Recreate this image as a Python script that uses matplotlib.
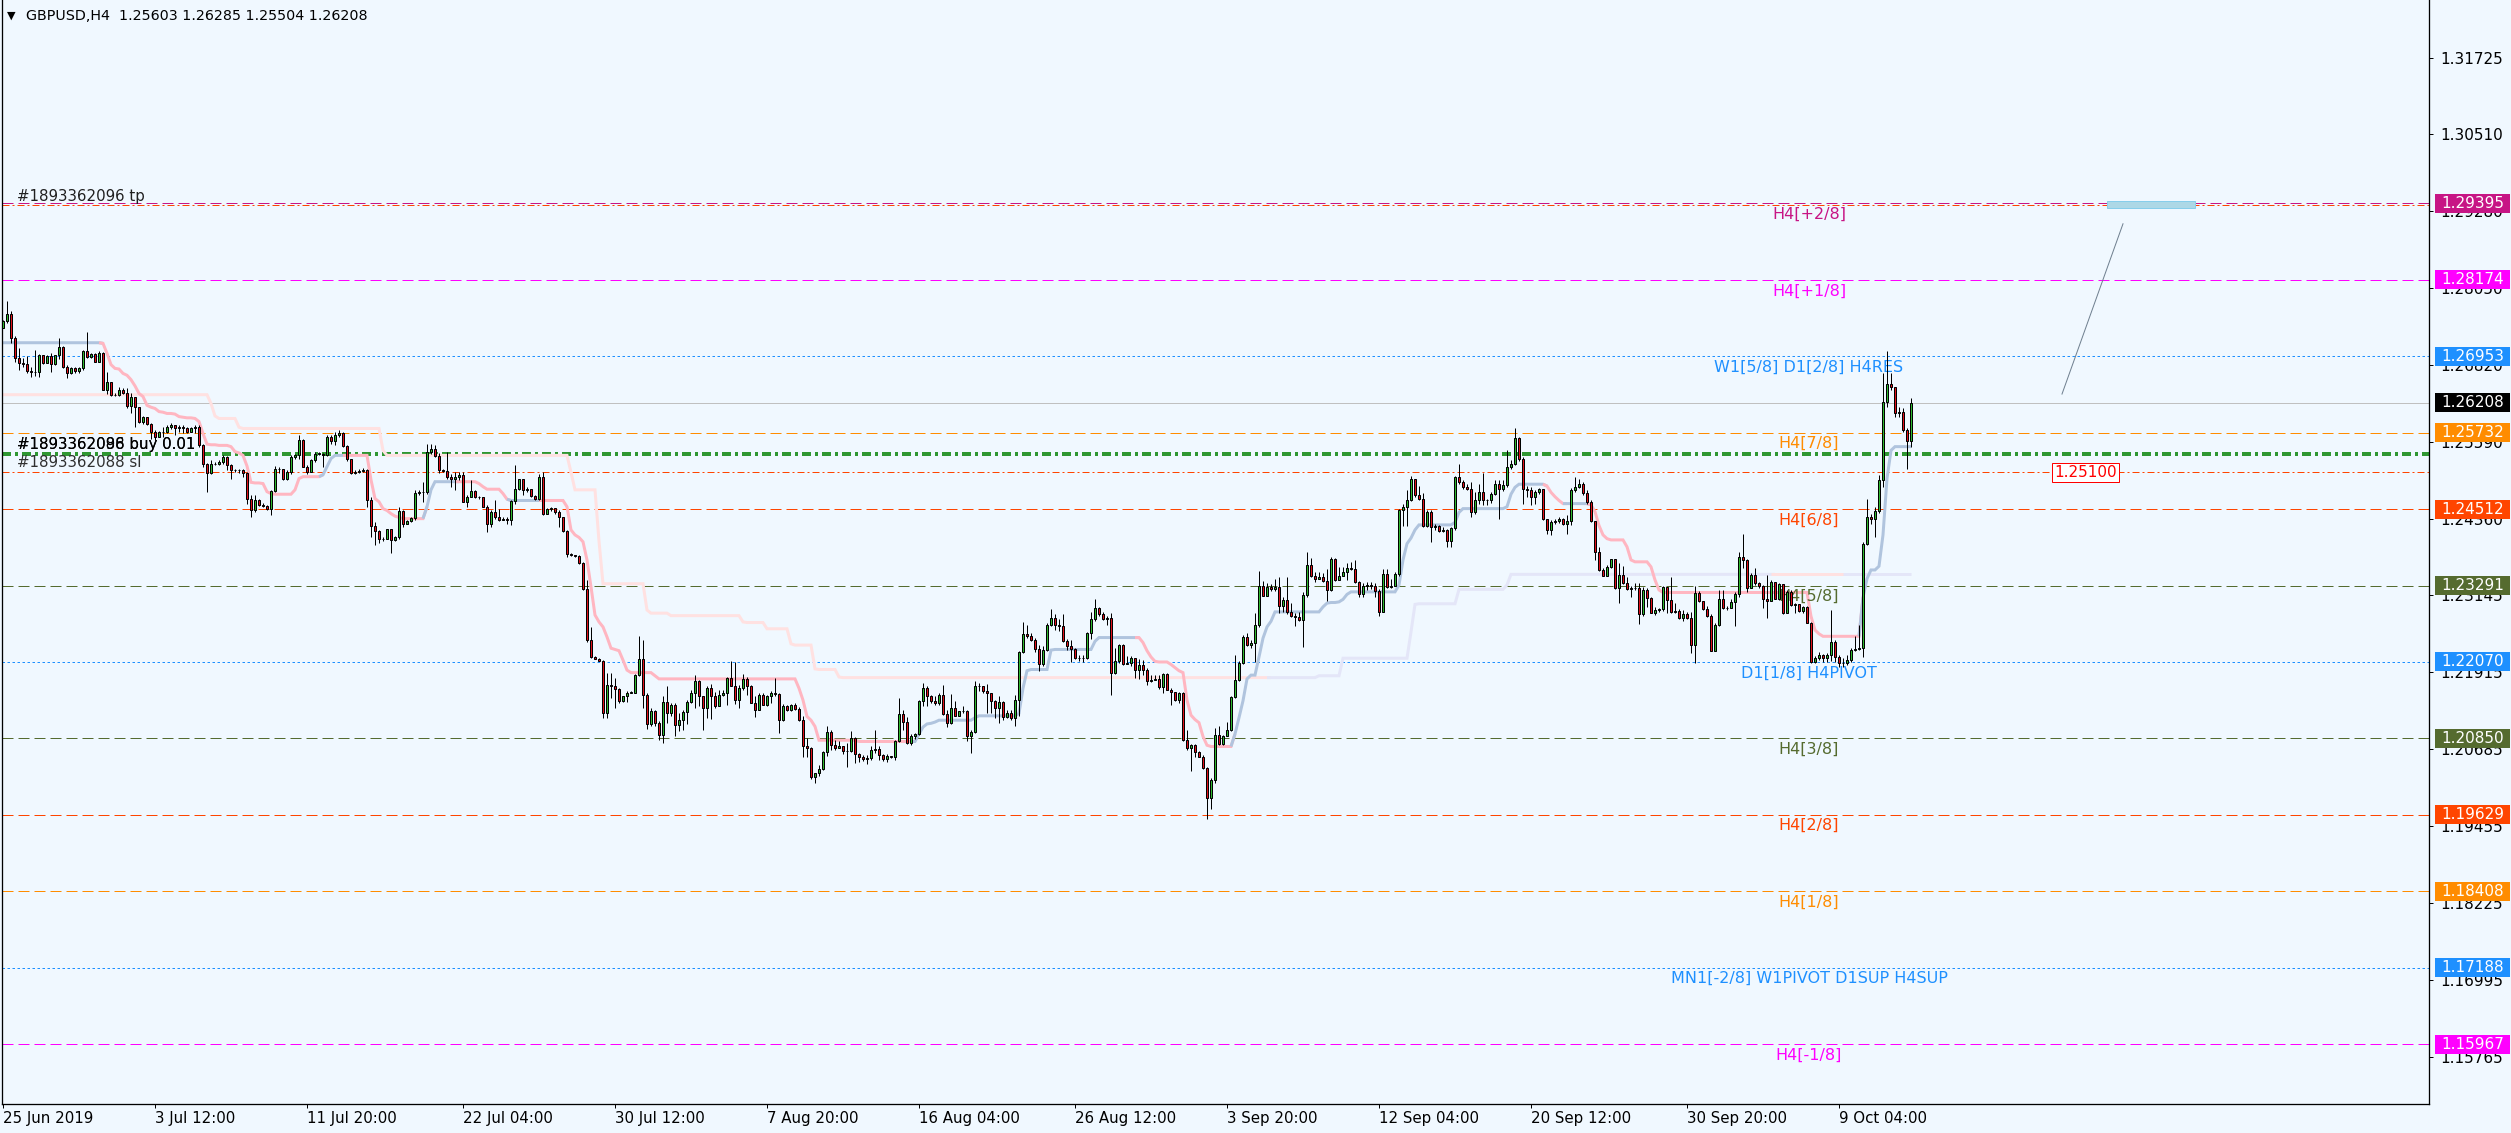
import numpy as np
import matplotlib
matplotlib.use("Agg")
from matplotlib import pyplot as plt
from matplotlib import transforms
from matplotlib.patches import Rectangle

plt.rcParams['font.family'] = ['DejaVu Sans']
plt.rcParams['lines.scale_dashes'] = False

W, H = 2511, 1133
BG = '#F0F8FF'

# prices in points above 1.2000 (1 point = 0.0001), one value per H4 bar
base = 1.2
first_open = 741
close_pts = [
    752, 763, 724, 693, 684, 683, 672, 671, 670, 697,
    685, 696, 683, 697, 710, 679, 668, 676, 672, 677,
    704, 694, 699, 687, 701, 642, 654, 633, 634, 642,
    637, 616, 630, 614, 590, 599, 587, 575, 567, 574,
    575, 582, 585, 580, 583, 580, 575, 581, 583, 553,
    523, 509, 523, 523, 526, 534, 522, 513, 514, 513,
    509, 468, 449, 466, 458, 456, 452, 480, 515, 516,
    500, 510, 535, 537, 562, 519, 510, 529, 540, 540,
    538, 567, 560, 570, 572, 552, 531, 509, 510, 512,
    513, 465, 425, 416, 403, 404, 419, 402, 407, 448,
    428, 433, 437, 477, 479, 478, 542, 547, 536, 513,
    512, 502, 499, 503, 505, 463, 471, 480, 471, 470,
    455, 427, 447, 438, 434, 436, 434, 464, 483, 499,
    482, 484, 472, 468, 502, 443, 452, 453, 446, 438,
    417, 380, 378, 376, 365, 323, 242, 215, 212, 209,
    125, 170, 168, 164, 144, 152, 158, 158, 186, 211,
    154, 108, 128, 110, 91, 143, 125, 139, 106, 115,
    127, 143, 157, 176, 152, 133, 165, 153, 137, 155,
    158, 181, 169, 147, 165, 180, 168, 142, 131, 154,
    139, 152, 157, 156, 115, 137, 130, 138, 132, 114,
    72, 69, 24, 29, 36, 63, 95, 75, 70, 72,
    65, 65, 85, 60, 56, 52, 54, 66, 68, 58,
    52, 57, 56, 81, 124, 111, 77, 88, 92, 144,
    165, 153, 144, 141, 155, 124, 109, 134, 121, 128,
    128, 88, 95, 169, 168, 160, 158, 144, 134, 143,
    119, 126, 117, 146, 223, 252, 249, 242, 227, 204,
    226, 266, 278, 266, 264, 240, 233, 228, 213, 213,
    214, 253, 275, 294, 284, 276, 277, 189, 208, 234,
    204, 205, 213, 194, 202, 194, 177, 179, 180, 167,
    187, 163, 159, 146, 157, 82, 69, 74, 63, 56,
    37, -11, 19, 90, 76, 89, 99, 151, 179, 206,
    247, 234, 238, 266, 329, 313, 327, 324, 327, 297,
    306, 287, 281, 279, 274, 314, 362, 345, 340, 342,
    337, 322, 372, 338, 345, 350, 357, 356, 334, 316,
    328, 330, 329, 321, 287, 348, 326, 329, 348, 449,
    454, 466, 499, 473, 467, 424, 447, 423, 424, 417,
    418, 401, 421, 502, 495, 486, 483, 447, 465, 478,
    466, 466, 476, 492, 483, 489, 518, 524, 565, 531,
    483, 481, 471, 478, 483, 435, 418, 431, 432, 435,
    427, 433, 482, 486, 491, 477, 463, 432, 383, 354,
    345, 358, 371, 325, 346, 333, 324, 325, 325, 283,
    322, 309, 286, 290, 291, 326, 306, 287, 289, 278,
    283, 277, 234, 317, 305, 292, 281, 225, 266, 307,
    293, 294, 303, 316, 375, 370, 325, 346, 333, 329,
    307, 305, 335, 308, 331, 286, 319, 298, 300, 289,
    295, 270, 207, 213, 218, 213, 218, 239, 215, 205,
    205, 210, 226, 227, 229, 395, 439, 435, 448, 498,
    623, 651, 647, 605, 607, 578, 560.3, 620.8,
]
high_pts = [
    753, 783, 768, 727, 708, 692, 695, 679, 705, 699,
    698, 697, 700, 698, 725, 711, 681, 678, 678, 679,
    706, 734, 701, 700, 704, 702, 671, 654, 636, 646,
    644, 644, 636, 631, 615, 600, 599, 589, 578, 576,
    583, 586, 588, 586, 585, 585, 583, 583, 586, 586,
    556, 525, 530, 526, 530, 538, 536, 524, 516, 515,
    515, 510, 474, 474, 467, 461, 458, 482, 520, 519,
    514, 513, 538, 539, 570, 563, 521, 531, 542, 542,
    541, 569, 570, 575, 578, 575, 553, 532, 513, 515,
    517, 515, 470, 431, 418, 406, 420, 419, 408, 455,
    450, 434, 439, 482, 481, 495, 556, 555, 554, 541,
    515, 543, 508, 511, 510, 510, 474, 498, 481, 472,
    470, 458, 449, 466, 452, 438, 439, 466, 522, 500,
    500, 486, 484, 474, 507, 511, 453, 455, 453, 450,
    438, 418, 381, 378, 378, 366, 338, 263, 216, 214,
    210, 189, 189, 181, 165, 153, 160, 160, 187, 248,
    242, 157, 134, 130, 112, 153, 169, 141, 141, 125,
    130, 146, 163, 186, 179, 153, 168, 172, 159, 163,
    163, 183, 208, 207, 170, 188, 183, 170, 152, 157,
    157, 154, 160, 181, 157, 140, 138, 140, 141, 135,
    120, 85, 71, 30, 42, 65, 104, 99, 82, 81,
    73, 77, 96, 87, 62, 58, 58, 72, 98, 72,
    60, 60, 57, 82, 150, 130, 119, 92, 94, 146,
    173, 168, 155, 152, 158, 170, 130, 156, 144, 129,
    136, 130, 98, 176, 174, 169, 172, 154, 146, 153,
    144, 131, 130, 154, 225, 271, 266, 253, 245, 234,
    232, 269, 291, 284, 276, 284, 243, 242, 229, 218,
    218, 255, 287, 307, 295, 287, 280, 285, 230, 236,
    235, 216, 216, 210, 211, 210, 197, 186, 186, 186,
    189, 189, 165, 158, 159, 159, 98, 76, 76, 65,
    58, 40, 21, 101, 104, 91, 111, 153, 218, 209,
    250, 254, 242, 285, 352, 337, 333, 332, 340, 342,
    311, 342, 301, 285, 287, 319, 383, 373, 351, 350,
    349, 355, 374, 373, 359, 359, 365, 367, 370, 336,
    333, 334, 335, 333, 324, 355, 355, 339, 350, 452,
    460, 481, 504, 492, 488, 477, 450, 450, 427, 426,
    422, 420, 423, 504, 524, 498, 492, 494, 479, 492,
    509, 468, 479, 497, 498, 497, 546, 530, 580, 567,
    535, 488, 486, 482, 485, 484, 436, 434, 436, 439,
    437, 441, 485, 502, 499, 494, 481, 465, 433, 391,
    357, 362, 372, 372, 365, 361, 343, 328, 333, 333,
    326, 325, 311, 295, 294, 328, 327, 343, 302, 292,
    290, 287, 287, 328, 321, 304, 297, 283, 269, 322,
    322, 297, 307, 319, 383, 412, 372, 349, 357, 335,
    330, 346, 338, 334, 333, 327, 322, 322, 301, 293,
    297, 297, 271, 216, 223, 219, 221, 290, 242, 218,
    213, 218, 229, 248, 266, 399, 468, 444, 455, 506,
    668, 704, 668, 639, 614, 612, 580, 628.5,
]
low_pts = [
    740, 748, 717, 686, 673, 679, 668, 662, 664, 662,
    683, 684, 671, 682, 691, 676, 660, 667, 668, 668,
    674, 692, 692, 686, 687, 641, 635, 632, 632, 632,
    635, 612, 604, 583, 589, 587, 586, 564, 562, 567,
    567, 572, 579, 569, 575, 573, 573, 574, 573, 551,
    519, 479, 508, 521, 522, 523, 514, 499, 510, 509,
    503, 460, 438, 447, 456, 454, 450, 442, 478, 509,
    498, 498, 508, 532, 532, 518, 508, 519, 527, 537,
    519, 536, 556, 553, 566, 550, 528, 508, 508, 509,
    510, 455, 406, 394, 397, 401, 404, 381, 401, 404,
    423, 428, 431, 434, 474, 463, 475, 540, 535, 509,
    510, 500, 487, 482, 498, 462, 454, 470, 469, 468,
    454, 415, 423, 436, 433, 434, 428, 426, 460, 482,
    474, 479, 471, 466, 466, 442, 443, 448, 444, 422,
    415, 375, 376, 374, 364, 322, 239, 213, 211, 208,
    117, 117, 149, 133, 142, 143, 143, 157, 157, 184,
    133, 100, 104, 104, 83, 77, 109, 120, 88, 97,
    98, 108, 141, 133, 136, 99, 118, 116, 133, 137,
    153, 139, 168, 140, 134, 162, 155, 141, 119, 130,
    138, 136, 142, 153, 93, 113, 128, 128, 131, 113,
    55, 55, 20, 13, 25, 34, 57, 66, 67, 70,
    60, 40, 63, 46, 48, 49, 44, 51, 61, 50,
    49, 48, 54, 50, 79, 98, 76, 75, 84, 91,
    136, 136, 141, 138, 139, 122, 103, 108, 120, 120,
    126, 81, 62, 93, 161, 158, 125, 125, 117, 110,
    114, 117, 115, 105, 121, 221, 245, 240, 223, 193,
    201, 225, 264, 258, 257, 239, 226, 207, 211, 209,
    207, 211, 243, 273, 280, 274, 266, 154, 188, 206,
    202, 203, 201, 181, 180, 186, 170, 175, 178, 164,
    157, 162, 138, 144, 142, 81, 67, 33, 56, 55,
    36, -44, -28, 14, 75, 74, 88, 97, 149, 177,
    204, 233, 230, 207, 263, 312, 312, 320, 320, 285,
    287, 284, 279, 264, 273, 231, 311, 343, 335, 339,
    335, 305, 321, 337, 340, 344, 338, 354, 333, 311,
    311, 322, 324, 311, 280, 287, 325, 325, 329, 344,
    424, 425, 464, 471, 466, 423, 423, 398, 418, 415,
    415, 391, 391, 418, 492, 484, 482, 439, 444, 460,
    458, 458, 461, 474, 436, 480, 487, 516, 522, 528,
    460, 471, 458, 460, 475, 434, 411, 410, 427, 429,
    426, 411, 426, 479, 485, 474, 460, 431, 370, 353,
    344, 344, 357, 323, 301, 332, 322, 311, 322, 268,
    280, 295, 285, 282, 287, 289, 285, 286, 286, 276,
    273, 275, 222, 205, 303, 290, 279, 224, 224, 264,
    292, 290, 293, 264, 311, 357, 319, 325, 330, 325,
    293, 277, 305, 307, 306, 284, 285, 296, 286, 287,
    285, 269, 206, 205, 210, 207, 207, 209, 207, 199,
    199, 202, 207, 225, 226, 215, 394, 428, 407, 445,
    487, 614, 641, 598, 599, 575, 515, 550.4,
]

# trailing stop line (value, number of bars), and bars where its colour flips
trail_runs = [
    (717, 25), (716, 1), (700, 1), (682, 1), (676, 1), (675, 1), (668, 1), (665, 1),
    (658, 1), (648, 1), (636, 1), (631, 1), (617, 1), (614, 1), (612, 1), (607, 1),
    (606, 1), (604, 2), (603, 1), (599, 1), (598, 1), (597, 2), (596, 1), (591, 1),
    (572, 1), (555, 1), (554, 2), (553, 3), (551, 1), (543, 1), (541, 1), (537, 1),
    (520, 1), (494, 1), (493, 2), (492, 1), (479, 1), (476, 1), (475, 5), (482, 1),
    (500, 1), (503, 5), (506, 1), (519, 1), (532, 1), (537, 9), (498, 1), (468, 1),
    (463, 1), (452, 1), (449, 1), (444, 1), (440, 1), (438, 1), (436, 6), (455, 1),
    (482, 1), (495, 11), (492, 1), (487, 1), (483, 4), (476, 1), (467, 1), (465, 14),
    (455, 1), (418, 1), (410, 1), (406, 1), (399, 1), (370, 1), (327, 1), (282, 1),
    (271, 1), (263, 1), (247, 1), (229, 1), (227, 1), (225, 1), (210, 1), (194, 1),
    (190, 6), (185, 1), (180, 35), (165, 1), (146, 1), (120, 1), (114, 1), (104, 1),
    (82, 10), (80, 15), (92, 1), (103, 1), (108, 1), (109, 1), (111, 1), (114, 9),
    (118, 1), (121, 10), (125, 1), (165, 1), (193, 1), (195, 5), (226, 1), (227, 10),
    (240, 1), (246, 11), (238, 1), (225, 1), (215, 1), (208, 1), (207, 3), (203, 1),
    (198, 1), (193, 1), (190, 1), (146, 1), (122, 1), (115, 1), (110, 1), (88, 1),
    (74, 1), (72, 6), (92, 1), (118, 1), (145, 1), (180, 1), (186, 2), (215, 1),
    (245, 1), (263, 1), (272, 1), (287, 12), (295, 1), (301, 1), (302, 2), (303, 1),
    (307, 1), (315, 1), (319, 12), (330, 1), (370, 1), (396, 1), (405, 1), (418, 1),
    (426, 9), (430, 1), (446, 1), (452, 11), (455, 1), (475, 1), (486, 1), (491, 7),
    (488, 1), (478, 1), (471, 1), (465, 1), (460, 7), (458, 1), (447, 1), (425, 1),
    (410, 1), (404, 1), (402, 4), (391, 1), (370, 1), (367, 4), (359, 1), (338, 1),
    (322, 1), (318, 37), (280, 1), (258, 1), (252, 1), (248, 10), (310, 1), (340, 1),
    (354, 2), (360, 1), (410, 1), (500, 1), (545, 1), (551, 5),
]
trail_flips = [0, 25, 80, 86, 106, 114, 127, 135, 228, 284, 308, 386, 391, 397, 465]
trail_colors = ['#B0C4DE', '#FFB6C1']          # up, down

# higher time frame trail
htf_runs = [
    (634, 52), (620, 1), (600, 1), (596, 5), (582, 1), (580, 35), (545, 1), (537, 46),
    (510, 1), (482, 6), (400, 1), (332, 11), (290, 1), (285, 5), (281, 18), (271, 1),
    (270, 5), (260, 6), (236, 1), (234, 5), (196, 1), (195, 5), (183, 1), (182, 119),
    (185, 6), (213, 17), (255, 1), (299, 1), (300, 10), (323, 12), (330, 1), (347, 101),
]
htf_flips = [0, 317, 443, 461]
htf_colors = ['#FFE1E1', '#E4E6F8']             # down, up

# murrey math levels
levels = [1.29395, 1.28174, 1.26953, 1.25732, 1.24512, 1.23291,
          1.22070, 1.20850, 1.19629, 1.18408, 1.17188, 1.15967]
level_names = ['H4[+2/8]', 'H4[+1/8]', 'W1[5/8] D1[2/8] H4RES', 'H4[7/8]',
               'H4[6/8]', 'H4[5/8]', 'D1[1/8] H4PIVOT', 'H4[3/8]', 'H4[2/8]',
               'H4[1/8]', 'MN1[-2/8] W1PIVOT D1SUP H4SUP', 'H4[-1/8]']
level_colors = ['#C71585', '#FF00FF', '#1E90FF', '#FF8C00', '#FF4500', '#556B2F',
                '#1E90FF', '#556B2F', '#FF4500', '#FF8C00', '#1E90FF', '#FF00FF']
level_dotted = [False, False, True, False, False, False,
                True, False, False, False, True, False]

bid = 1.26208
buy_prices = [1.25408, 1.25372]
buy_tickets = ['#1893362088 buy 0.01', '#1893362096 buy 0.01']
tp_price = 1.29365
sl_price = 1.25100

price_ticks = [1.31725, 1.30510, 1.29280, 1.28050, 1.26820, 1.25590, 1.24360,
               1.23145, 1.21915, 1.20685, 1.19455, 1.18225, 1.16995, 1.15765]
date_ticks = [0, 38, 76, 115, 153, 191, 229, 268, 306, 344, 382, 421, 459]
date_labels = ['25 Jun 2019', '3 Jul 12:00', '11 Jul 20:00', '22 Jul 04:00',
               '30 Jul 12:00', '7 Aug 20:00', '16 Aug 04:00', '26 Aug 12:00',
               '3 Sep 20:00', '12 Sep 04:00', '20 Sep 12:00', '30 Sep 20:00',
               '9 Oct 04:00']

title = 'GBPUSD,H4  1.25603 1.26285 1.25504 1.26208'

# ---------------------------------------------------------------
c = base + np.array(close_pts) / 1e4
o = np.concatenate([[base + first_open / 1e4], c[:-1]])
h = np.maximum(base + np.array(high_pts) / 1e4, np.maximum(o, c))
l = np.minimum(base + np.array(low_pts) / 1e4, np.minimum(o, c))
n = len(c)
x = np.arange(n)

trail = base + np.repeat([v for v, _ in trail_runs], [k for _, k in trail_runs]) / 1e4
htf = base + np.repeat([v for v, _ in htf_runs], [k for _, k in htf_runs]) / 1e4

px = 0.72  # one pixel in points at dpi 100
fig = plt.figure(figsize=(W / 100, H / 100), dpi=100, facecolor=BG)
ax_l, ax_r, ax_b = 1.5, 2429, 1104.3
ax = fig.add_axes([ax_l / W, 1 - ax_b / H, (ax_r - ax_l) / W, ax_b / H])
ax.set_facecolor(BG)
ax.set_xlim(-0.375, 606.5)
ax.set_ylim(1.15004, 1.32645)

for s in ['left', 'right', 'bottom']:
    ax.spines[s].set_color('black')
    ax.spines[s].set_linewidth(1.3 * px)
ax.spines['top'].set_visible(False)

# level lines
DASH = (0, (11 * px, 5 * px))
DOT = (0, (2.5 * px, 2.5 * px))
DASHDOT = (0, (7 * px, 3 * px, 2 * px, 3 * px))
for p, col, dot in zip(levels, level_colors, level_dotted):
    ax.axhline(p, color=col, lw=px, ls=DOT if dot else DASH, zorder=1)
ax.axhline(bid, color='#C0C0C0', lw=px, zorder=1)
ax.axhline(tp_price, color='#FF4500', lw=px, ls=DASHDOT, zorder=1)
ax.axhline(sl_price, color='#FF4500', lw=px, ls=DASHDOT, zorder=1)
for p in buy_prices:
    ax.axhline(p, color='#008000', lw=1.6 * px,
               ls=(0, (9 * px, 4 * px, 3 * px, 4 * px)), zorder=1)


def draw_trail(vals, flips, colors, lw):
    edges = flips + [n - 1]
    for k in range(len(flips)):
        s, e = edges[k], edges[k + 1]
        seg = slice(max(s - 1, 0), e + 1) if k else slice(s, e + 1)
        ax.plot(x[seg], vals[seg], color=colors[k % 2], lw=lw,
                solid_capstyle='butt', solid_joinstyle='miter', zorder=2)


draw_trail(htf, htf_flips, htf_colors, 3 * px)
draw_trail(trail, trail_flips, trail_colors, 3 * px)

# level names
for p, name, col in zip(levels, level_names, level_colors):
    ax.annotate(name, (451.5, p), xytext=(0, -2.5), textcoords='offset points',
                ha='center', va='top', color=col, fontsize=11.5, zorder=2.5)

# candles
ax.vlines(x, l, h, color='black', lw=px, zorder=3)
up = c >= o
body = np.where(np.abs(c - o) < 0.00004, 0.00004, c - o)
ax.bar(x[up], body[up], bottom=o[up], width=0.5, color='#2EB82E',
       edgecolor='black', linewidth=px, zorder=3.1)
ax.bar(x[~up], body[~up], bottom=o[~up], width=0.5, color='#E0101A',
       edgecolor='black', linewidth=px, zorder=3.1)

# order labels
ax.annotate('#1893362096 tp', (0, tp_price), xytext=(10, 1), textcoords='offset points',
            ha='left', va='bottom', fontsize=10.8, color='#202020', zorder=4)
for t in buy_tickets:
    ax.annotate(t, (0, buy_prices[0]), xytext=(10, 0.5), textcoords='offset points',
                ha='left', va='bottom', fontsize=10.8, color='black', zorder=4)
ax.annotate('#1893362088 sl', (0, sl_price), xytext=(10, 1.5), textcoords='offset points',
            ha='left', va='bottom', fontsize=10.8, color='#303030', zorder=4)

# drawn objects on the right
ax.add_patch(Rectangle((526, 1.2932), 22, 0.0012, facecolor='#ADD8E6',
                       edgecolor='#87CEEB', lw=px, zorder=2))
ax.plot([514.75, 530], [1.2635, 1.2907], color='#708090', lw=px, zorder=2)
ax.text(520.6, sl_price, '1.25100', ha='center', va='center', color='#FF0000',
        fontsize=11, zorder=4,
        bbox=dict(boxstyle='square,pad=0.15', fc='white', ec='#FF0000', lw=px))

# axes ticks
ax.yaxis.tick_right()
ax.set_yticks(price_ticks)
ax.set_yticklabels([f'{v:.5f}' for v in price_ticks])
ax.set_xticks(date_ticks)
ax.set_xticklabels(date_labels, ha='left')
ax.tick_params(axis='y', direction='out', length=4 * px, width=px, pad=5,
               labelsize=11, colors='black')
ax.tick_params(axis='x', direction='out', length=4 * px, width=px, pad=2,
               labelsize=10.8, colors='black')

# price boxes on the right axis
tr = transforms.blended_transform_factory(fig.transFigure, ax.transData)
box_h = 19 / 6260
box_prices = levels[:3] + [bid] + levels[3:]
box_colors = level_colors[:3] + ['black'] + level_colors[3:]
for p, col in zip(box_prices, box_colors):
    ax.add_patch(Rectangle((2435 / W, p - box_h / 2), 75 / W, box_h, transform=tr,
                           facecolor=col, edgecolor='none', clip_on=False, zorder=5))
    ax.text(2472.5 / W, p, f'{p:.5f}', transform=tr, ha='center', va='center',
            color='white', fontsize=11, clip_on=False, zorder=6)

# title
fig.text(7 / W, 1 - 16 / H, '\u25BC', fontsize=8, va='center', ha='left', color='black')
fig.text(26 / W, 1 - 16 / H, title, fontsize=10.3, va='center', ha='left', color='black')

fig.savefig('out.png', dpi=100, facecolor=BG)
